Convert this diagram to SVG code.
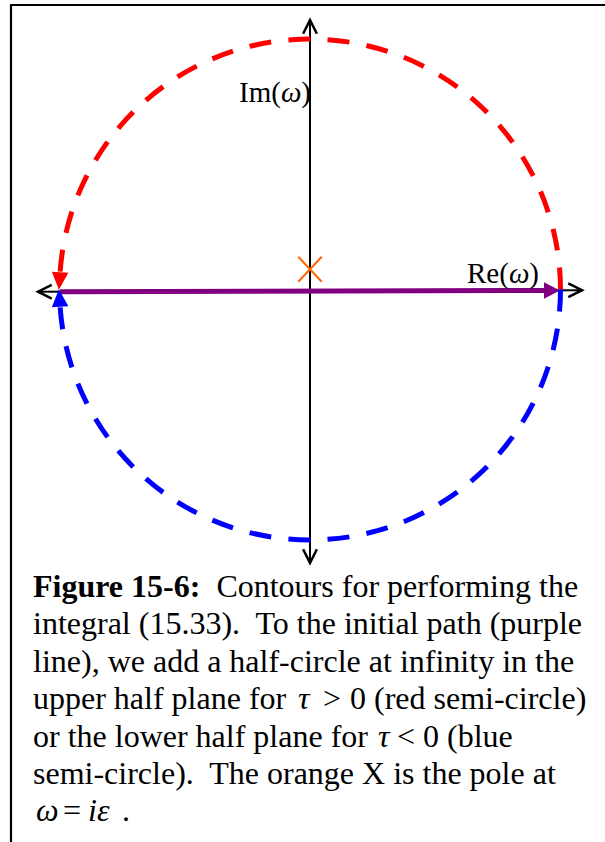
<svg xmlns="http://www.w3.org/2000/svg" width="605" height="842" viewBox="0 0 605 842">
<style>
.frame{stroke:#000;stroke-width:2.2;fill:none}
.axis{stroke:#000;stroke-width:2;fill:none}
.arc{fill:none;stroke-width:5;stroke-dasharray:22 17.3}
.lbl{font-family:"Liberation Serif","Times New Roman",serif;font-size:29px;fill:#000}
.cap{font-family:"Liberation Serif","Times New Roman",serif;font-size:32px;fill:#000;white-space:pre}
.it{font-style:italic}
.b{font-weight:bold}
.pole{stroke:#FF6600;stroke-width:2;fill:none}
</style>
<defs>
<marker id="chev" markerUnits="userSpaceOnUse" orient="auto-start-reverse" refX="0" refY="0" markerWidth="20" markerHeight="20" viewBox="-14 -8 16 16" overflow="visible">
<path d="M-11,-5.5 L0,0 L-11,5.5" fill="none" stroke="#000" stroke-width="2"/>
</marker>
<marker id="arrRed" markerUnits="userSpaceOnUse" orient="auto" refX="0" refY="0" markerWidth="20" markerHeight="20" viewBox="-1 -10 20 20" overflow="visible">
<path d="M0,-8.3 L17.6,0 L0,8.3 Z" fill="#FF0000"/>
</marker>
<marker id="arrBlue" markerUnits="userSpaceOnUse" orient="auto" refX="0" refY="0" markerWidth="20" markerHeight="20" viewBox="-1 -10 20 20" overflow="visible">
<path d="M0,-8.3 L17.6,0 L0,8.3 Z" fill="#0000FF"/>
</marker>
<marker id="arrPurple" markerUnits="userSpaceOnUse" orient="auto" refX="0" refY="0" markerWidth="20" markerHeight="20" viewBox="-1 -10 20 20" overflow="visible">
<path d="M0,-8.3 L16,0 L0,8.3 Z" fill="#800080"/>
</marker>
</defs>
<rect width="605" height="842" fill="#fff"/>
<g id="frame">
<line class="frame" x1="10" y1="5" x2="605" y2="5"/>
<line class="frame" x1="11" y1="4" x2="11" y2="842"/>
</g>
<g id="axes">
<line class="axis" x1="38" y1="291.7" x2="582" y2="290.2" marker-start="url(#chev)" marker-end="url(#chev)"/>
<line class="axis" x1="310" y1="20" x2="310" y2="563" marker-start="url(#chev)" marker-end="url(#chev)"/>
</g>
<g id="connectors">
<line x1="60" y1="291.8" x2="544" y2="290.5" stroke="#800080" stroke-width="5" marker-end="url(#arrPurple)"/>
<path class="arc" stroke="#FF0000" d="M560.5,289.5 A250.5,250.5 0 0 0 60.1,272.2" marker-end="url(#arrRed)"/>
<path class="arc" stroke="#0000FF" d="M560.5,289.5 A250.5,250.5 0 0 1 60.1,306.8" marker-end="url(#arrBlue)"/>
</g>
<g id="pole">
<line class="pole" x1="298.3" y1="256.7" x2="321.7" y2="281.7"/>
<line class="pole" x1="298.3" y1="281.7" x2="321.7" y2="256.7"/>
</g>
<g id="label-im">
<text class="lbl" x="239" y="102">Im(<tspan class="it">ω</tspan>)</text>
</g>
<g id="label-re">
<text class="lbl" x="467" y="283">Re(<tspan class="it">ω</tspan>)</text>
</g>
<g id="caption">
<text class="cap" x="33" y="597"><tspan class="b">Figure 15-6:</tspan>  Contours for performing the</text>
<text class="cap" x="33" y="634.4">integral (15.33).  To the initial path (purple</text>
<text class="cap" x="33" y="671.8">line), we add a half-circle at infinity in the</text>
<text class="cap" x="33" y="709.2">upper half plane for <tspan class="it" x="298">τ</tspan><tspan x="323">&gt;</tspan><tspan x="350">0 (red semi-circle)</tspan></text>
<text class="cap" x="33" y="746.6">or the lower half plane for <tspan class="it" x="378">τ</tspan><tspan x="397">&lt;</tspan><tspan x="423">0 (blue</tspan></text>
<text class="cap" x="33" y="784">semi-circle).  The orange X is the pole at</text>
<text class="cap" x="36" y="821.4"><tspan class="it">ω</tspan><tspan x="63">=</tspan><tspan class="it" x="88">i</tspan><tspan class="it" x="97">ε</tspan><tspan x="122">.</tspan></text>
</g>
</svg>
